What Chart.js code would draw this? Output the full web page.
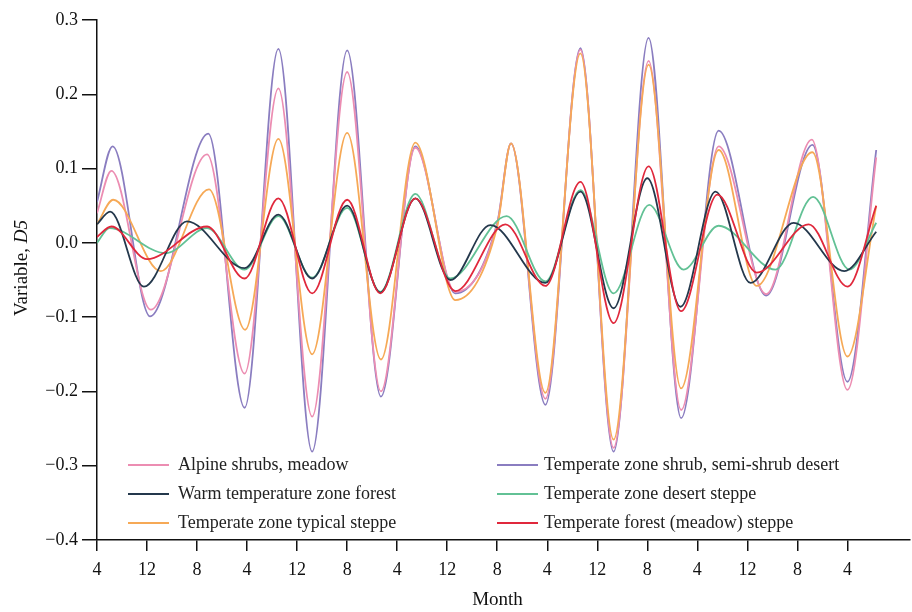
<!DOCTYPE html>
<html lang="en">
<head>
<meta charset="UTF-8">
<title>Variable D5 by month</title>
<script src="https://cdn.jsdelivr.net/npm/chart.js"></script>
<style>
    html, body { margin: 0; padding: 0; background: #fff; }
    canvas { display: block; }
</style>
</head>
<body>
<canvas id="chart" width="912" height="612"></canvas>
<script>
    // x = months counted from the first April of the record, y = D5
    const xTickMonths = [0, 8, 16, 24, 32, 40, 48, 56, 64, 72, 80, 88, 96, 104, 112, 120];
    const xTickLabels = ['4', '12', '8', '4', '12', '8', '4', '12', '8', '4', '12', '8', '4', '12', '8', '4'];
    const yTicks = [-0.4, -0.3, -0.2, -0.1, 0.0, 0.1, 0.2, 0.3];

    const alpine = [[0, 0.04], [2.3, 0.097], [8.6, -0.090], [17.6, 0.119], [23.6, -0.176], [29.0, 0.208],
        [34.4, -0.234], [40.0, 0.230], [45.4, -0.200], [50.9, 0.128], [57.3, -0.066], [64.0, 0.025], [66.2, 0.134],
        [71.7, -0.210], [77.3, 0.260], [82.6, -0.276], [88.2, 0.245], [93.4, -0.225], [99.4, 0.130],
        [107.0, -0.069], [114.3, 0.139], [120.0, -0.198], [124.6, 0.115]];
    const warmForest = [[0, 0.025], [2.1, 0.042], [7.5, -0.059], [14.4, 0.029], [23.6, -0.034], [29.0, 0.038],
        [34.4, -0.048], [40.0, 0.050], [45.3, -0.067], [50.9, 0.060], [56.5, -0.050], [62.9, 0.024],
        [71.7, -0.054], [77.3, 0.069], [82.6, -0.088], [88.0, 0.087], [93.3, -0.086], [98.9, 0.069],
        [104.5, -0.054], [111.4, 0.027], [119.5, -0.038], [124.6, 0.015]];
    const typicalSteppe = [[0, 0.025], [2.6, 0.058], [10.2, -0.038], [17.9, 0.072], [23.7, -0.117], [29.0, 0.140],
        [34.4, -0.150], [40.0, 0.148], [45.4, -0.157], [50.9, 0.135], [57.3, -0.077], [64.0, 0.022], [66.2, 0.134],
        [71.7, -0.202], [77.3, 0.255], [82.6, -0.265], [88.2, 0.240], [93.4, -0.196], [99.4, 0.125],
        [105.5, -0.058], [114.4, 0.122], [120.0, -0.153], [124.6, 0.05]];
    const shrubDesert = [[0, 0.055], [2.5, 0.130], [8.5, -0.099], [17.8, 0.147], [23.6, -0.222], [29.0, 0.261],
        [34.4, -0.281], [40.0, 0.259], [45.4, -0.207], [50.9, 0.130], [57.3, -0.068], [64.0, 0.027], [66.2, 0.134],
        [71.7, -0.218], [77.3, 0.262], [82.6, -0.281], [88.2, 0.276], [93.4, -0.236], [99.4, 0.151],
        [107.0, -0.071], [114.4, 0.132], [120.0, -0.187], [124.6, 0.125]];
    const desertSteppe = [[0, 0.0], [2.0, 0.020], [11.0, -0.014], [17.6, 0.020], [23.6, -0.036], [29.0, 0.036],
        [34.4, -0.047], [40.0, 0.047], [45.3, -0.066], [50.9, 0.066], [56.5, -0.048], [65.5, 0.036],
        [71.7, -0.052], [77.3, 0.071], [82.6, -0.068], [88.3, 0.051], [93.8, -0.036], [99.4, 0.023],
        [108.5, -0.036], [114.5, 0.062], [120.3, -0.036], [124.6, 0.027]];
    const forestSteppe = [[0, 0.008], [2.3, 0.022], [8.0, -0.022], [17.6, 0.022], [23.6, -0.048], [29.0, 0.060],
        [34.4, -0.068], [40.0, 0.058], [45.3, -0.068], [50.9, 0.060], [57.3, -0.065], [65.3, 0.025],
        [71.7, -0.058], [77.3, 0.082], [82.6, -0.108], [88.2, 0.103], [93.4, -0.092], [99.2, 0.065],
        [105.5, -0.040], [113.8, 0.025], [120.0, -0.059], [124.6, 0.05]];

    const FONT = '"Liberation Serif", "Times New Roman", serif';

    function series(label, pts, color, order) {
        return {
            label: label,
            data: pts.map(p => ({ x: p[0], y: p[1] })),
            borderColor: color,
            borderWidth: 1.8,
            fill: false,
            pointRadius: 0,
            cubicInterpolationMode: 'monotone',
            order: order
        };
    }

    // legend drawn by hand: two columns of three, inside the plot
    const cornerLegend = {
        id: 'cornerLegend',
        afterDraw(chart) {
            const ctx = chart.ctx;
            const a = chart.chartArea;
            ctx.save();
            ctx.font = '18px ' + FONT;
            ctx.textBaseline = 'middle';
            ctx.fillStyle = '#222';
            chart.data.datasets.forEach((ds, i) => {
                const col = Math.floor(i / 3), row = i % 3;
                const x = a.left + (col === 0 ? 31 : 400);
                const y = a.bottom - 75 + row * 29;
                ctx.strokeStyle = ds.borderColor;
                ctx.lineWidth = 2;
                ctx.beginPath();
                ctx.moveTo(x, y);
                ctx.lineTo(x + 41, y);
                ctx.stroke();
                ctx.fillText(ds.label, x + (col === 0 ? 50 : 47), y);
            });
            ctx.restore();
        }
    };

    // axis titles, the y one has an italic part
    const axisTitles = {
        id: 'axisTitles',
        afterDraw(chart) {
            const ctx = chart.ctx;
            const a = chart.chartArea;
            ctx.save();
            ctx.fillStyle = '#111';
            ctx.textBaseline = 'middle';
            ctx.font = '19px ' + FONT;
            ctx.textAlign = 'center';
            ctx.fillText('Month', a.left + (a.right - a.left) / 2 - 6, 600);

            const plain = 'Variable, ', ital = 'D5';
            ctx.font = '19px ' + FONT;
            const w1 = ctx.measureText(plain).width;
            ctx.font = 'italic 19px ' + FONT;
            const w2 = ctx.measureText(ital).width;
            ctx.translate(22, 268);
            ctx.rotate(-Math.PI / 2);
            ctx.textAlign = 'left';
            const x0 = -(w1 + w2) / 2;
            ctx.font = '19px ' + FONT;
            ctx.fillText(plain, x0, 0);
            ctx.font = 'italic 19px ' + FONT;
            ctx.fillText(ital, x0 + w1, 0);
            ctx.restore();
        }
    };

    const ctx = document.getElementById('chart').getContext('2d');
    const chart = new Chart(ctx, {
        type: 'line',
        data: {
            datasets: [
                series('Alpine shrubs, meadow', alpine, '#ec8db2', 4),
                series('Warm temperature zone forest', warmForest, '#24384c', 1),
                series('Temperate zone typical steppe', typicalSteppe, '#f6a956', 3),
                series('Temperate zone shrub, semi-shrub desert', shrubDesert, '#8a7dc0', 5),
                series('Temperate zone desert steppe', desertSteppe, '#62c195', 2),
                series('Temperate forest (meadow) steppe', forestSteppe, '#e0283c', 0)
            ]
        },
        options: {
            responsive: false,
            animation: false,
            layout: { padding: { top: 20, right: 2, left: 0, bottom: 0 } },
            plugins: {
                legend: { display: false },
                tooltip: { enabled: false }
            },
            scales: {
                x: {
                    type: 'linear',
                    min: 0,
                    max: 130,
                    afterBuildTicks: s => { s.ticks = xTickMonths.map(v => ({ value: v })); },
                    afterFit: s => { s.height = 72; },
                    ticks: {
                        callback: (v, i) => xTickLabels[i],
                        color: '#111',
                        font: { family: FONT, size: 18 },
                        padding: 8,
                        maxRotation: 0,
                        autoSkip: false
                    },
                    grid: { drawOnChartArea: false, color: '#111', lineWidth: 1.5, tickLength: 11 },
                    border: { color: '#111', width: 1.5 }
                },
                y: {
                    min: -0.4,
                    max: 0.3,
                    afterBuildTicks: s => { s.ticks = yTicks.map(v => ({ value: v })); },
                    afterFit: s => { s.width = 97; },
                    ticks: {
                        callback: v => (v < -1e-9 ? '\u2212' : '') + Math.abs(v).toFixed(1),
                        color: '#111',
                        font: { family: FONT, size: 18 },
                        padding: 4
                    },
                    grid: { drawOnChartArea: false, color: '#111', lineWidth: 1.5, tickLength: 15 },
                    border: { color: '#111', width: 1.5 }
                }
            }
        },
        plugins: [cornerLegend, axisTitles]
    });
</script>
</body>
</html>
